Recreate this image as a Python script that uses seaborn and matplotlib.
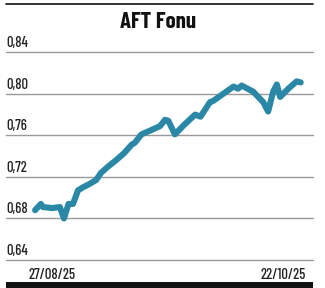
import matplotlib
matplotlib.use("Agg")
import matplotlib.pyplot as plt
import matplotlib.transforms as mtransforms
from matplotlib import font_manager
import seaborn as sns
import pandas as pd

# ---- data (day offset relative to 27/08/25, fund price) ----
days = [-4.1, -2.7, -2.2, 0.0, 1.9, 2.9, 4.0, 5.1, 6.3, 7.5, 9.0, 10.7, 11.9, 13.6,
        15.5, 17.5, 19.3, 20.1, 21.7, 24.0, 26.2, 27.4, 28.2, 29.8, 32.0, 34.7,
        36.0, 38.3, 39.0, 41.5, 44.0, 45.1, 46.0, 48.8, 51.2, 52.4, 53.6, 54.5,
        55.3, 57.3, 59.3, 60.3]
values = [0.688, 0.694, 0.691, 0.690, 0.691, 0.680, 0.694, 0.694, 0.707, 0.710,
          0.713, 0.717, 0.724, 0.730, 0.736, 0.743, 0.751, 0.753, 0.761, 0.765,
          0.769, 0.775, 0.774, 0.761, 0.770, 0.780, 0.778, 0.792, 0.793, 0.800,
          0.807, 0.805, 0.808, 0.802, 0.792, 0.783, 0.802, 0.809, 0.797, 0.805,
          0.812, 0.811]
yticks = [0.64, 0.68, 0.72, 0.76, 0.80, 0.84]
ytick_labels = ["0,64", "0,68", "0,72", "0,76", "0,80", "0,84"]
xtick_pos = [0, 56]
xtick_labels = ["27/08/25", "22/10/25"]
title = "AFT Fonu"

sns.set_style("white")
names = {f.name for f in font_manager.fontManager.ttflist}
fam = "Barlow Condensed" if "Barlow Condensed" in names else "DejaVu Sans"
plt.rcParams["font.family"] = [fam, "DejaVu Sans"]

df = pd.DataFrame({"day": days, "value": values})

W, H = 325, 288
fig = plt.figure(figsize=(W / 100, H / 100), dpi=100)
left, right = 6 / W, 313 / W
top_px, bot_px = 52.3, 260.0
ax = fig.add_axes([left, 1 - bot_px / H, right - left, (bot_px - top_px) / H])

xmin, xmax = (6 - 52) / 4.125, (313 - 52) / 4.125
ax.set_xlim(xmin, xmax)
ax.set_ylim(0.64, 0.84)

for t in yticks:
    ax.axhline(t, color="#999999", lw=1.0, zorder=1, clip_on=False)

sns.lineplot(data=df, x="day", y="value", ax=ax, color="#2a88a6", lw=4.4,
             solid_capstyle="round", solid_joinstyle="round", zorder=3)

for s in ax.spines.values():
    s.set_visible(False)
ax.set_xticks([])
ax.set_yticks([])
ax.set_xlabel("")
ax.set_ylabel("")

trans = mtransforms.blended_transform_factory(ax.transAxes, ax.transData)
for t, lab in zip(yticks, ytick_labels):
    ax.text(0.0, t + 0.0022, lab, transform=trans, ha="left", va="bottom",
            fontsize=10.5, fontweight="medium", color="#222222")

for p, lab in zip(xtick_pos, xtick_labels):
    ax.text(p, 0.64 - 0.0075, lab, ha="center", va="top", fontsize=10.5,
            fontweight="medium", color="#222222", clip_on=False)

fig.text(158.5 / W, 1 - 21.5 / H, title, ha="center", va="center",
         fontsize=16.5, fontweight="bold", color="#111111")

# top rule and bottom bar
fig.add_artist(plt.Line2D([left, right], [1 - 4 / H, 1 - 4 / H],
                          transform=fig.transFigure, color="#111111", lw=1.2))
fig.add_artist(plt.Rectangle((left, 0), right - left, 6 / H,
                             transform=fig.transFigure, color="#111111", lw=0))

fig.savefig("out.png", dpi=100)
